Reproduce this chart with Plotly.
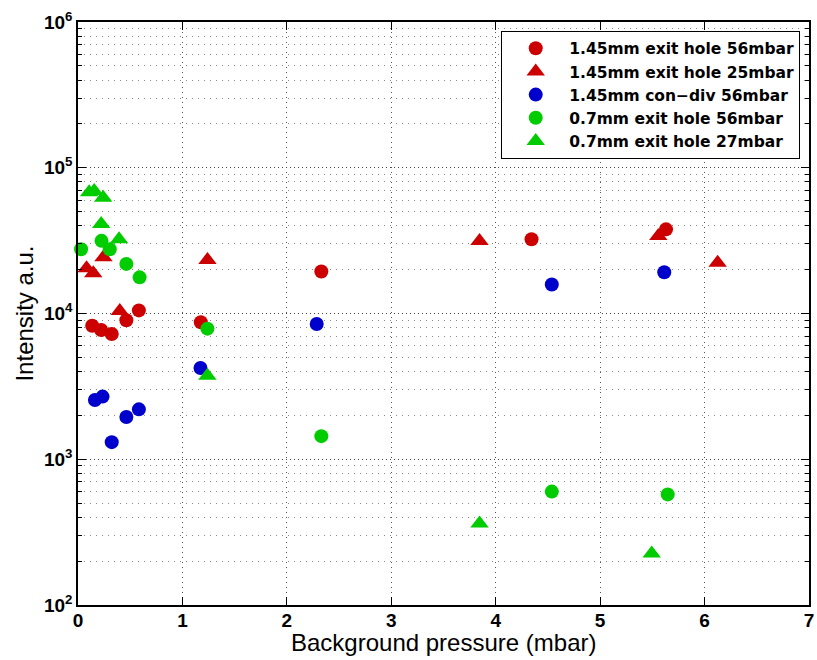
import plotly.graph_objects as go

# Measured intensity vs. background pressure for each nozzle configuration
p_145_exit_56 = [0.136, 0.222, 0.323, 0.463, 0.583, 1.176, 2.33, 4.343, 5.631]
i_145_exit_56 = [8250, 7700, 7230, 8980, 10500, 8700, 19400, 32300, 37800]

p_145_exit_25 = [0.082, 0.146, 0.244, 0.40, 1.24, 3.845, 5.557, 6.125]
i_145_exit_25 = [20400, 18900, 24300, 10400, 23300, 31400, 34000, 22300]

p_145_condiv_56 = [0.162, 0.235, 0.323, 0.463, 0.583, 1.173, 2.286, 4.537, 5.614]
i_145_condiv_56 = [2550, 2690, 1310, 1950, 2200, 4230, 8470, 15800, 19200]

p_07_exit_56 = [0.029, 0.225, 0.304, 0.463, 0.59, 1.239, 2.33, 4.537, 5.647]
i_07_exit_56 = [27600, 31500, 27600, 21900, 17700, 7870, 1440, 600, 574]

p_07_exit_27 = [0.107, 0.155, 0.241, 0.222, 0.393, 1.239, 3.845, 5.494]
i_07_exit_27 = [67900, 69200, 62300, 41100, 32300, 3740, 363, 226]

series_names = [
    "1.45mm exit hole 56mbar",
    "1.45mm exit hole 25mbar",
    "1.45mm con\u2212div 56mbar",
    "0.7mm exit hole 56mbar",
    "0.7mm exit hole 27mbar",
]

x_ticks = [0, 1, 2, 3, 4, 5, 6, 7]
y_exponents = [2, 3, 4, 5, 6]

RED, BLUE, GREEN = "#cc0000", "#0000cc", "#00cc00"
FONT = "Liberation Sans, Arial, Helvetica, sans-serif"
LEGEND_FONT = "DejaVu Sans, Liberation Sans, Arial, sans-serif"

series = [
    (p_145_exit_56, i_145_exit_56, RED, "circle", 14),
    (p_145_exit_25, i_145_exit_25, RED, "triangle-up", 16),
    (p_145_condiv_56, i_145_condiv_56, BLUE, "circle", 14),
    (p_07_exit_56, i_07_exit_56, GREEN, "circle", 14),
    (p_07_exit_27, i_07_exit_27, GREEN, "triangle-up", 16),
]

fig = go.Figure()
for (xs, ys, col, sym, sz), name in zip(series, series_names):
    fig.add_trace(go.Scatter(
        x=xs, y=ys, mode="markers", name=name, cliponaxis=False,
        marker=dict(color=col, symbol=sym, size=sz, line=dict(width=0)),
    ))

# log-axis minor ticks at 2..9 x 10^k
minor_vals = [m * 10 ** e for e in y_exponents[:-1] for m in range(2, 10)]

fig.update_layout(
    xaxis=dict(
        range=[0, 7], tickmode="array", tickvals=x_ticks,
        ticktext=[f"<b>{v}</b>" for v in x_ticks],
        ticks="inside", ticklen=8, tickwidth=1, tickcolor="black",
        showline=True, linecolor="black", linewidth=1.5, mirror="ticks",
        showgrid=True, gridcolor="#555555", gridwidth=1, griddash="1px,4px",
        zeroline=False, ticklabelstandoff=-3, ticklabeloverflow="allow",
    ),
    yaxis=dict(
        type="log", range=[2, 6], tickmode="array",
        tickvals=[10 ** e for e in y_exponents],
        ticktext=[f"<b>10<sup>{e}</sup></b>" for e in y_exponents],
        ticks="inside", ticklen=8, tickwidth=1, tickcolor="black",
        showline=True, linecolor="black", linewidth=1.5, mirror="ticks",
        showgrid=True, gridcolor="#444444", gridwidth=1, griddash="1px,3px",
        zeroline=False, ticklabelstandoff=0, ticklabeloverflow="allow",
        minor=dict(tickmode="array", tickvals=minor_vals, ticks="inside",
                   ticklen=4, tickwidth=1, tickcolor="black", showgrid=True,
                   gridcolor="#888888", gridwidth=1, griddash="1px,5px"),
    ),
)

fig.update_layout(
    width=817, height=660,
    margin=dict(l=78, r=3, t=22, b=55),
    paper_bgcolor="white", plot_bgcolor="white",
    # the global font carries the tick labels
    font=dict(family=FONT, size=19, color="black"),
    showlegend=True,
    legend=dict(
        x=0.988, y=0.985, xanchor="right", yanchor="top",
        bgcolor="white", bordercolor="black", borderwidth=1,
        font=dict(family=LEGEND_FONT, size=15.5, color="black", weight="bold"),
        itemwidth=57, tracegroupgap=0,
    ),
    annotations=[
        dict(text="Background pressure (mbar)", xref="paper", yref="paper",
             x=0.5, y=-0.0635, xanchor="center", yanchor="middle",
             showarrow=False, font=dict(family=FONT, size=24, color="black")),
        dict(text="Intensity a.u.", xref="paper", yref="paper",
             x=-0.0738, y=0.5, xanchor="center", yanchor="middle",
             textangle=-90, showarrow=False,
             font=dict(family=FONT, size=24, color="black")),
    ],
)

fig.write_html("out.html")
